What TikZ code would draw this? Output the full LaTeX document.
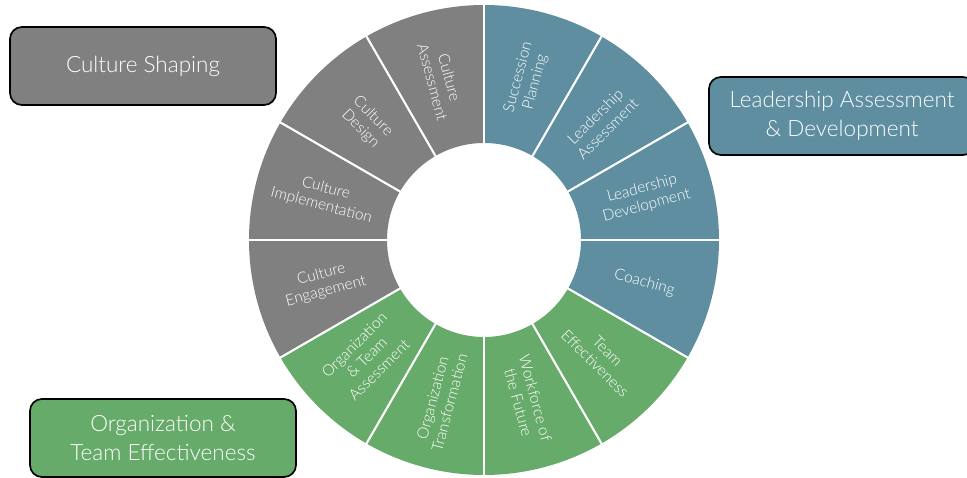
\documentclass[tikz,border=0pt]{standalone}
\usepackage{fontspec}
\setmainfont{Lato}[UprightFont=* Light]
\definecolor{cultgray}{RGB}{128,128,128}
\definecolor{leadblue}{RGB}{95,142,161}
\definecolor{orggreen}{RGB}{103,171,106}

\begin{document}
\begin{tikzpicture}[x=0.025cm,y=0.025cm,
  seg/.style={text=white, align=center, inner sep=1pt, font=\fontsize{11}{12.5}\selectfont},
  group/.style={draw=black, line width=1.2pt, rounded corners=0.3cm,
    minimum width=6.65cm, minimum height=1.95cm, text=white, align=center,
    font=\fontsize{16}{20.5}\selectfont}]
\useasboundingbox (0,0) rectangle (967,478);
\clip (0,0) rectangle (967,478);

% the wheel, centre at (484,238)
\begin{scope}[shift={(484,238)}]
\foreach \m/\r/\col/\txt [count=\i] in {
    75/75/leadblue/{Succession\\Planning},
    45/45/leadblue/{Leadership\\Assessment},
    15/15/leadblue/{Leadership\\Development},
    -15/-15/leadblue/{Coaching},
    -45/-45/orggreen/{Team\\Effectiveness},
    -75/-75/orggreen/{Workforce of\\the Future},
    255/75/orggreen/{Organization\\Transformation},
    225/45/orggreen/{Organization\\\& Team\\Assessment},
    195/15/cultgray/{Culture\\Engagement},
    165/-15/cultgray/{Culture\\Implementation},
    135/-45/cultgray/{Culture\\Design},
    105/-75/cultgray/{Culture\\Assessment}}{
  \fill[\col] ({\m-15}:97) arc[start angle=\m-15, end angle=\m+15, radius=97]
    -- ({\m+15}:235) arc[start angle=\m+15, end angle=\m-15, radius=235] -- cycle;
  \node[seg, rotate=\r] (s\i) at (\m:166) {\txt};
}
\foreach \a in {0,30,...,330}
  \draw[white, line width=1.5pt] (\a:95) -- (\a:237);
\end{scope}

% group boxes
\node[group, fill=cultgray] (shaping) at (143,412) {Culture Shaping};
\node[group, fill=leadblue] (leader) at (842,362) {Leadership Assessment\\\& Development};
\node[group, fill=orggreen] (orgteam) at (163,40) {Organization \&\\Team Effectiveness};

\end{tikzpicture}
\end{document}
